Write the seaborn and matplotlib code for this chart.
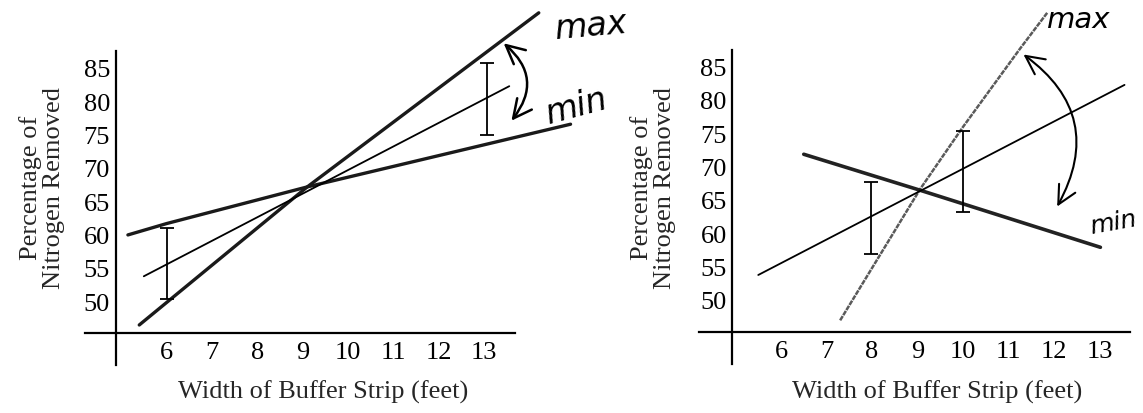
import numpy as np
import matplotlib
matplotlib.use("Agg")
import matplotlib.pyplot as plt
import seaborn as sns

sns.set_style("white")
plt.rcParams['font.family'] = ['Liberation Serif', 'DejaVu Serif']
plt.rcParams['font.size'] = 19

width_ticks = [6, 7, 8, 9, 10, 11, 12, 13]
pct_ticks = [50, 55, 60, 65, 70, 75, 80, 85]

# regression line (same in both panels)
fit_x = [5.5, 13.55]
fit_y = [53.9, 82.4]

# left panel: steepest / shallowest lines
left_max_x = [5.4, 9.1, 14.2]
left_max_y = [46.6, 67.3, 93.4]
left_min_x = [5.15, 6.0, 9.1, 14.9]
left_min_y = [60.1, 61.8, 67.3, 76.7]
left_err_x = [6.0, 13.05]
left_err_lo = [50.45, 75.1]
left_err_hi = [61.1, 85.85]

# right panel
right_max_x = [7.3, 9.06, 10.0, 11.25, 11.85]
right_max_y = [47.1, 66.8, 76.1, 87.8, 93.2]
right_min_x = [6.5, 9.06, 13.02]
right_min_y = [72.0, 66.6, 58.05]
right_err_x = [7.98, 10.0]
right_err_lo = [57.0, 63.35]
right_err_hi = [67.8, 75.5]

W, H = 1143, 413
fig = plt.figure(figsize=(W / 100, H / 100), dpi=100)

XLIM = (3.5, 16.5)
YLIM = (38, 96)


def make_axes(x6_px, sx, y50_px, sy):
    left = x6_px - (6 - XLIM[0]) * sx
    width = (XLIM[1] - XLIM[0]) * sx
    bottom = y50_px + (50 - YLIM[0]) * sy
    height = (YLIM[1] - YLIM[0]) * sy
    ax = fig.add_axes([left / W, 1 - bottom / H, width / W, height / H])
    ax.patch.set_alpha(0)
    ax.set_xlim(*XLIM)
    ax.set_ylim(*YLIM)
    return ax


def style_axes(ax, y_axis_x, x_axis_y):
    for s in ['top', 'right']:
        ax.spines[s].set_visible(False)
    ax.spines['left'].set_position(('data', y_axis_x))
    ax.spines['left'].set_bounds(40.6, 87.7)
    ax.spines['bottom'].set_position(('data', x_axis_y))
    ax.spines['bottom'].set_bounds(4.2, 13.67)
    for s in ['left', 'bottom']:
        ax.spines[s].set_linewidth(1.6)
        ax.spines[s].set_color('black')
    ax.set_xticks(width_ticks)
    ax.set_yticks(pct_ticks)
    ax.tick_params(axis='both', direction='inout', length=7, width=1.3,
                   colors='black', labelsize=19)
    ax.tick_params(axis='x', pad=3)
    ax.tick_params(axis='y', pad=0.5)
    ax.grid(False)


def draw_err(ax, xs, lo, hi, cap):
    lo = np.array(lo)
    hi = np.array(hi)
    mid = (lo + hi) / 2
    ax.errorbar(xs, mid, yerr=(hi - lo) / 2, fmt='none', ecolor='black',
                elinewidth=1.3, capsize=cap, capthick=1.3)


hand = dict(family='DejaVu Sans', fontstyle='italic', color='black',
            ha='center', va='center')

# ---------- left panel ----------
axL = make_axes(166.5, 45.4, 302.3, 6.67)
style_axes(axL, 4.88, 45.35)
sns.lineplot(x=left_max_x, y=left_max_y, ax=axL, color='#1a1a1a', lw=2.4,
             estimator=None, sort=False)
sns.lineplot(x=left_min_x, y=left_min_y, ax=axL, color='#1a1a1a', lw=2.4,
             estimator=None, sort=False)
sns.lineplot(x=fit_x, y=fit_y, ax=axL, color='black', lw=1.3, estimator=None)
draw_err(axL, left_err_x, left_err_lo, left_err_hi, 5)

axL.annotate('', xy=(13.38, 89.1), xytext=(13.56, 76.9),
             arrowprops=dict(arrowstyle='<->,head_length=0.7,head_width=0.35',
                             color='black', lw=1.8,
                             connectionstyle='arc3,rad=0.5'))
axL.text(15.36, 91.3, 'max', rotation=5, fontsize=24, **hand)
axL.text(15.03, 79.3, 'min', rotation=15, fontsize=24, **hand)

axL.set_xlabel('Width of Buffer Strip (feet)', fontsize=19, va='baseline')
axL.xaxis.set_label_coords(9.45, 35.5, transform=axL.transData)
axL.set_ylabel('Percentage of\nNitrogen Removed', fontsize=19, va='center',
               linespacing=1.05)
axL.yaxis.set_label_coords(3.25, 67.2, transform=axL.transData)

# ---------- right panel ----------
axR = make_axes(781, 45.5, 301, 6.67)
style_axes(axR, 4.93, 45.3)
sns.lineplot(x=right_max_x, y=right_max_y, ax=axR, color='#5a5a5a', lw=1.8,
             estimator=None, sort=False, linestyle=(0, (2, 0.4)))
sns.lineplot(x=right_min_x, y=right_min_y, ax=axR, color='#222222', lw=2.6,
             estimator=None, sort=False)
sns.lineplot(x=fit_x, y=fit_y, ax=axR, color='black', lw=1.3, estimator=None)
draw_err(axR, right_err_x, right_err_lo, right_err_hi, 4.8)

axR.annotate('', xy=(11.28, 87.2), xytext=(12.04, 63.8),
             arrowprops=dict(arrowstyle='<->,head_length=0.7,head_width=0.35',
                             color='black', lw=1.5,
                             connectionstyle='arc3,rad=0.45'))
axR.text(12.55, 92.2, 'max', rotation=0, fontsize=21, **hand)
axR.text(13.3, 61.7, 'min', rotation=10, fontsize=18, **hand)

axR.set_xlabel('Width of Buffer Strip (feet)', fontsize=19, va='baseline')
axR.xaxis.set_label_coords(9.44, 35.3, transform=axR.transData)
axR.set_ylabel('Percentage of\nNitrogen Removed', fontsize=19, va='center',
               linespacing=1.07)
axR.yaxis.set_label_coords(3.19, 67.0, transform=axR.transData)

fig.savefig('out.png', dpi=100)
